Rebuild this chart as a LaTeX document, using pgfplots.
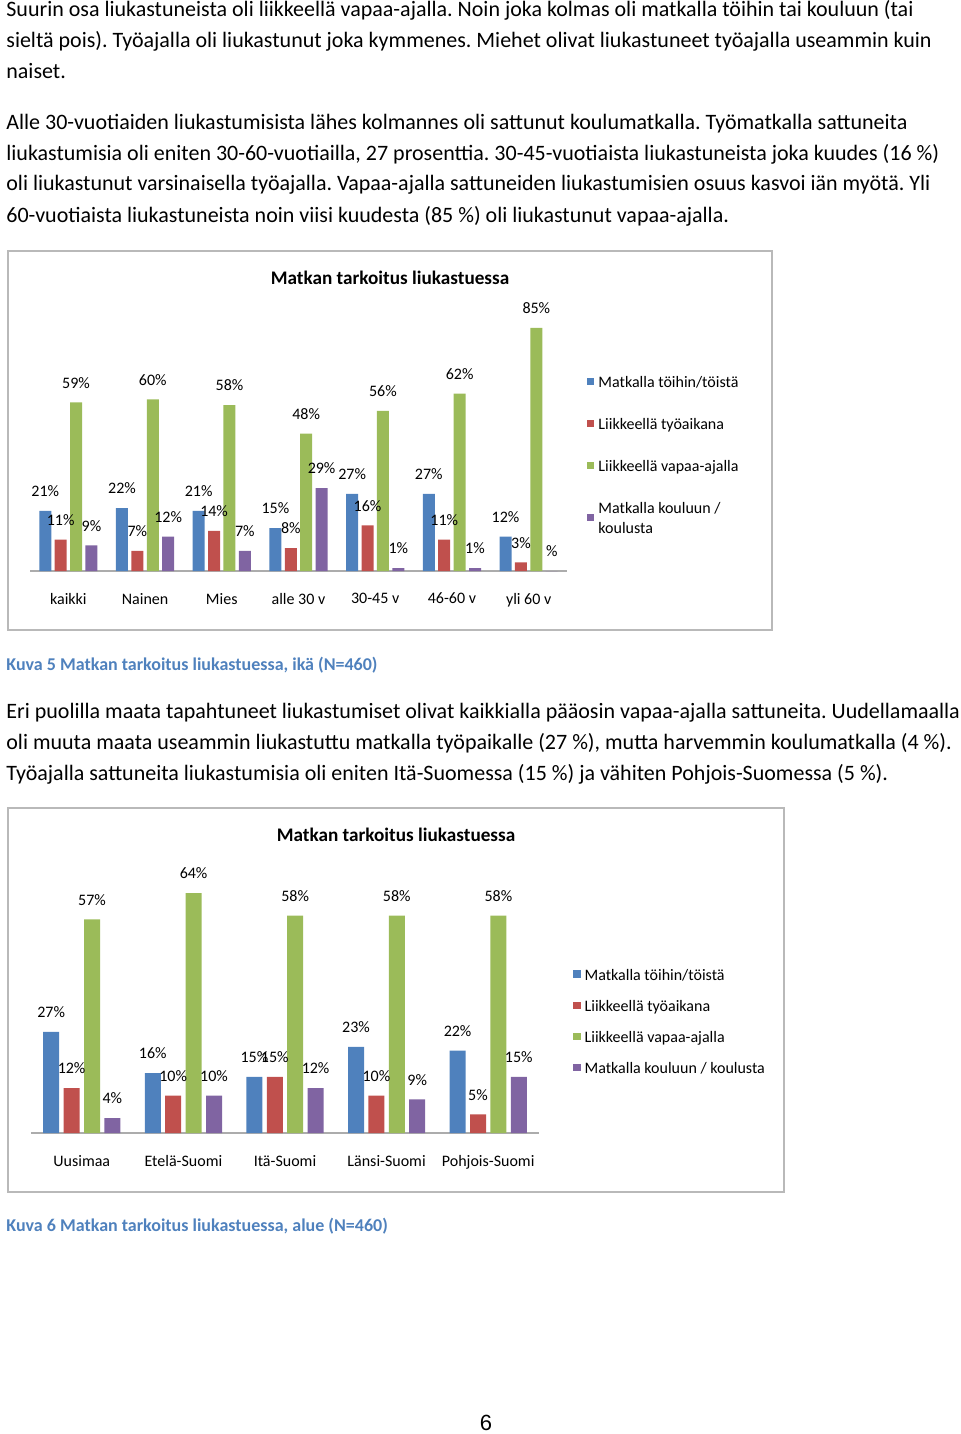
\documentclass[border=0pt]{standalone}
\usepackage{fontspec}
\setmainfont{Carlito}
\newfontfamily\arialf{Liberation Sans}
\usepackage{pgfplots}
\usepackage{pgfplotstable}
\pgfplotsset{compat=1.18}
\frenchspacing

\definecolor{sblue}{HTML}{4F81BD}
\definecolor{sred}{HTML}{C0504D}
\definecolor{sgreen}{HTML}{9BBB59}
\definecolor{spurple}{HTML}{8064A2}
\definecolor{capblue}{HTML}{4F81BD}

% age / gender groups
\pgfplotstableread{
x tyo liik vapaa koulu
0 21 11 59 9
1 22 7  60 12
2 21 14 58 7
3 15 8  48 29
4 27 16 56 1
5 27 11 62 1
6 12 3  85 0
}\ikadata

% regions
\pgfplotstableread{
x tyo liik vapaa koulu
0 27 12 57 4
1 16 10 64 10
2 15 15 58 12
3 23 10 58 9
4 22 5  58 15
}\aluedata

\pgfplotsset{
  sqleg/.style={legend image code/.code={\fill[##1] (0pt,-0.6pt) rectangle (3.6pt,3.0pt);}},
  kuva/.style={
    scale only axis, enlargelimits=false, clip=false, ybar,
    ymin=0,
    axis x line*=bottom, axis y line=none,
    x axis line style={gray!65, line width=0.9pt},
    xtick=data, major tick length=0pt, xtick style={draw=none},
    xticklabel style={font=\fontsize{8}{10}\selectfont, yshift=-7.5pt},
    /pgf/number format/assume math mode=true,
    nodes near coords={\pgfmathfloatparsenumber{\pgfplotspointmeta}\pgfmathfloatifflags{\pgfmathresult}{0}{}{\pgfmathprintnumber{\pgfplotspointmeta}}\%},
    every node near coord/.append style={font=\fontsize{8}{10}\selectfont, black, yshift=3.5pt},
    legend cell align=left,
    legend style={draw=none, fill=none, anchor=north west, inner sep=0pt,
      font=\fontsize{8}{10}\selectfont, cells={align=left}},
  },
}

\begin{document}
\begin{tikzpicture}
\path[use as bounding box] (0,0) rectangle (480pt,-717pt);

\begin{scope}[x=0.5pt,y=-0.5pt]
\tikzset{body/.style={anchor=base west, inner sep=0pt, font=\fontsize{11}{13}\selectfont}}
\node[body] at (6,17) {Suurin osa liukastuneista oli liikkeellä vapaa-ajalla. Noin joka kolmas oli matkalla töihin tai kouluun (tai};
\node[body] at (6,48) {sieltä pois). Työajalla oli liukastunut joka kymmenes. Miehet olivat liukastuneet työajalla useammin kuin};
\node[body] at (6,79) {naiset.};
\node[body] at (6,129) {Alle 30-vuotiaiden liukastumisista lähes kolmannes oli sattunut koulumatkalla. Työmatkalla sattuneita};
\node[body] at (6,160) {liukastumisia oli eniten 30-60-vuotiailla, 27 prosenttia. 30-45-vuotiaista liukastuneista joka kuudes (16~\%)};
\node[body] at (6,191) {oli liukastunut varsinaisella työajalla. Vapaa-ajalla sattuneiden liukastumisien osuus kasvoi iän myötä. Yli};
\node[body] at (6,222) {60-vuotiaista liukastuneista noin viisi kuudesta (85~\%) oli liukastunut vapaa-ajalla.};

\draw[gray!55, line width=1pt] (8,251) rectangle (772,630);
\node[font=\fontsize{9.6}{11}\selectfont\bfseries] at (390,278) {Matkan tarkoitus liukastuessa};

\node[anchor=base west, inner sep=0pt, text=capblue, font=\fontsize{9}{11}\selectfont\bfseries] at (6,670) {Kuva 5 Matkan tarkoitus liukastuessa, ikä (N=460)};

\node[body] at (6,718) {Eri puolilla maata tapahtuneet liukastumiset olivat kaikkialla pääosin vapaa-ajalla sattuneita. Uudellamaalla};
\node[body] at (6,749) {oli muuta maata useammin liukastuttu matkalla työpaikalle (27~\%), mutta harvemmin koulumatkalla (4~\%).};
\node[body] at (6,780) {Työajalla sattuneita liukastumisia oli eniten Itä-Suomessa (15~\%) ja vähiten Pohjois-Suomessa (5~\%).};

\draw[gray!55, line width=1pt] (8,808) rectangle (784,1192);
\node[font=\fontsize{9.6}{11}\selectfont\bfseries] at (396,835) {Matkan tarkoitus liukastuessa};

\node[anchor=base west, inner sep=0pt, text=capblue, font=\fontsize{9}{11}\selectfont\bfseries] at (6,1231) {Kuva 6 Matkan tarkoitus liukastuessa, alue (N=460)};

\node[anchor=base, inner sep=0pt, font=\arialf\fontsize{11}{13}\selectfont] at (486,1430) {6};
\end{scope}

\begin{axis}[kuva,
  at={(15pt,-285.5pt)}, anchor=south west,
  width=268.5pt, height=128.7pt,
  xmin=-0.5, xmax=6.5, ymax=90,
  bar width=6pt, ybar=1.7pt,
  xticklabels={kaikki,Nainen,Mies,alle 30 v,30-45 v,46-60 v,yli 60 v},
  legend style={at={(1.037,0.773)}, row sep=10pt},
]
\addplot[fill=sblue, draw=none, sqleg] table[x=x,y=tyo] {\ikadata};
\addplot[fill=sred, draw=none, sqleg] table[x=x,y=liik] {\ikadata};
\addplot[fill=sgreen, draw=none, sqleg] table[x=x,y=vapaa] {\ikadata};
\addplot[fill=spurple, draw=none, sqleg] table[x=x,y=koulu] {\ikadata};
\legend{Matkalla töihin/töistä, Liikkeellä työaikana, Liikkeellä vapaa-ajalla, {Matkalla kouluun /\\koulusta}}
\end{axis}

\begin{axis}[kuva,
  at={(15.5pt,-566.5pt)}, anchor=south west,
  width=254pt, height=131.25pt,
  xmin=-0.5, xmax=4.5, ymax=70,
  bar width=8pt, ybar=2.2pt,
  xticklabels={Uusimaa,Etelä-Suomi,Itä-Suomi,Länsi-Suomi,Pohjois-Suomi},
  legend style={at={(1.067,0.64)}, row sep=4.5pt},
]
\addplot[fill=sblue, draw=none, sqleg] table[x=x,y=tyo] {\aluedata};
\addplot[fill=sred, draw=none, sqleg] table[x=x,y=liik] {\aluedata};
\addplot[fill=sgreen, draw=none, sqleg] table[x=x,y=vapaa] {\aluedata};
\addplot[fill=spurple, draw=none, sqleg] table[x=x,y=koulu] {\aluedata};
\legend{Matkalla töihin/töistä, Liikkeellä työaikana, Liikkeellä vapaa-ajalla, Matkalla kouluun / koulusta}
\end{axis}
\end{tikzpicture}
\end{document}
